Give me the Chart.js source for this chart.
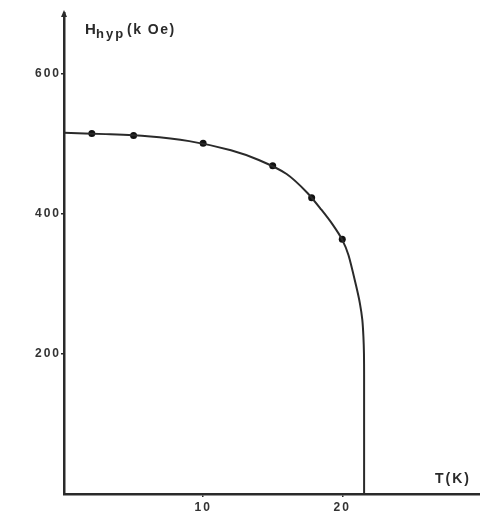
<!DOCTYPE html>
<html>
<head>
<meta charset="utf-8">
<script src="https://cdn.jsdelivr.net/npm/chart.js@4/dist/chart.umd.min.js"></script>
<style>
  html, body { margin: 0; padding: 0; background: #fff; }
  #wrap { width: 480px; height: 511px; position: relative; }
</style>
</head>
<body>
<div id="wrap"><canvas id="hypChart"></canvas></div>
<script>
const curveT = [0, 3, 6, 9, 12, 14, 16, 17.5, 18.5, 19.3, 20.0, 20.45, 21.0, 21.27, 21.44, 21.52, 21.56, 21.57, 21.57];
const curveH = [516, 514, 511, 504, 491, 477, 457, 430, 406, 385, 363, 341, 297, 272, 249, 225, 200, 170, 0];

// Measured points
const pointT = [2, 5, 10, 15, 17.8, 20];
const pointH = [515, 512, 501, 469, 423, 364];

// Axis ticks
const xTicks = [10, 20];
const yTicks = [200, 400, 600];

const ink = "#2a2a2a";
const fontFamily = "'Liberation Sans', Arial, sans-serif";

// wide letter spacing for the tick numbers
const spacing = {
  id: "spacing",
  beforeDraw(chart) {
    chart.ctx.letterSpacing = "2px";
  },
};

// arrow on top of the H axis plus the axis names
const axisDecor = {
  id: "axisDecor",
  afterDraw(chart) {
    const ctx = chart.ctx;
    const area = chart.chartArea;
    const x0 = area.left;
    ctx.save();
    ctx.fillStyle = ink;
    ctx.beginPath();
    ctx.moveTo(x0, area.top - 3);
    ctx.lineTo(x0 - 3, area.top + 4);
    ctx.lineTo(x0 + 3, area.top + 4);
    ctx.closePath();
    ctx.fill();

    ctx.textAlign = "left";
    ctx.textBaseline = "alphabetic";
    ctx.letterSpacing = "0px";
    ctx.font = "bold 15px " + fontFamily;
    ctx.fillText("H", x0 + 21, 34);
    ctx.font = "bold 13px " + fontFamily;
    ctx.letterSpacing = "2px";
    ctx.fillText("hyp", x0 + 32, 38);
    ctx.font = "bold 14px " + fontFamily;
    ctx.letterSpacing = "1.5px";
    ctx.fillText("(k Oe)", x0 + 63, 34);

    ctx.font = "bold 14px " + fontFamily;
    ctx.letterSpacing = "2px";
    ctx.fillText("T(K)", 435, 483);
    ctx.restore();
  },
};

const chart = new Chart(document.getElementById("hypChart"), {
  type: "scatter",
  data: {
    datasets: [
      {
        label: "fit",
        data: curveT.map((t, i) => ({ x: t, y: curveH[i] })),
        showLine: true,
        borderColor: ink,
        borderWidth: 2,
        pointRadius: 0,
        tension: 0.25,
        fill: false,
      },
      {
        label: "data",
        data: pointT.map((t, i) => ({ x: t, y: pointH[i] })),
        pointRadius: 3.5,
        pointBackgroundColor: "#111",
        pointBorderColor: "#111",
        pointBorderWidth: 0,
      },
    ],
  },
  options: {
    responsive: true,
    maintainAspectRatio: false,
    animation: false,
    layout: { autoPadding: false, padding: { top: 13, right: 0, left: 0, bottom: 0 } },
    plugins: {
      legend: { display: false },
      tooltip: { enabled: false },
    },
    scales: {
      x: {
        type: "linear",
        min: 0,
        max: 29.9,
        afterBuildTicks: (scale) => {
          scale.ticks = xTicks.map((v) => ({ value: v }));
        },
        afterFit: (scale) => {
          scale.height = 17;
        },
        grid: { drawOnChartArea: false, drawTicks: true, tickLength: 3, color: ink, lineWidth: 1.5 },
        border: { display: true, color: ink, width: 2.5 },
        ticks: {
          color: "#333",
          padding: 3,
          maxRotation: 0,
          font: { family: fontFamily, size: 12, weight: "bold" },
        },
      },
      y: {
        type: "linear",
        min: 0,
        max: 687,
        afterBuildTicks: (scale) => {
          scale.ticks = yTicks.map((v) => ({ value: v }));
        },
        afterFit: (scale) => {
          scale.width = 64;
        },
        grid: { drawOnChartArea: false, drawTicks: true, tickLength: 3, color: ink, lineWidth: 1.5 },
        border: { display: true, color: ink, width: 2.5 },
        ticks: {
          color: "#333",
          padding: 0,
          font: { family: fontFamily, size: 12, weight: "bold" },
        },
      },
    },
  },
  plugins: [spacing, axisDecor],
});
</script>
</body>
</html>
